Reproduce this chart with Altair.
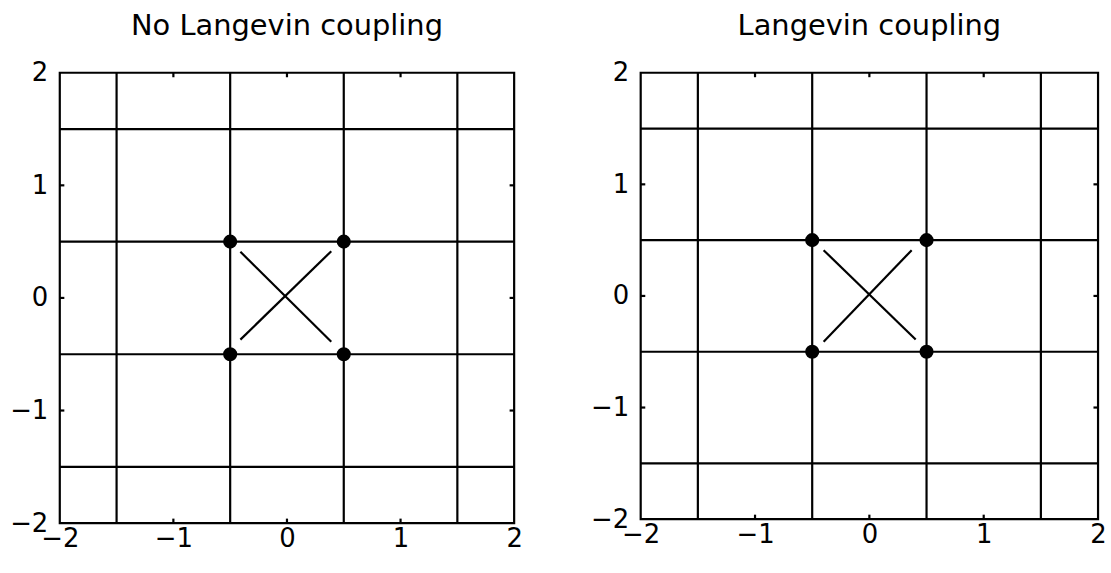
import altair as alt
import pandas as pd

# Lattice lines drawn across each panel
grid_positions = [-1.5, -0.5, 0.5, 1.5]
# Tick labels on both axes and inward tick marks
label_values = [-2, -1, 0, 1, 2]
tick_values = [-1, 0, 1]
tick_len = 0.04

# Particle positions (corners of the central cell)
dot_x = [-0.5, 0.5, -0.5, 0.5]
dot_y = [0.5, 0.5, -0.5, -0.5]

# Diagonal cross inside the central cell: (x, y) -> (x2, y2)
left_cross_x = [-0.41, -0.41]
left_cross_y = [0.41, -0.37]
left_cross_x2 = [0.39, 0.39]
left_cross_y2 = [-0.39, 0.415]

right_cross_x = [-0.40, -0.40]
right_cross_y = [0.41, -0.41]
right_cross_x2 = [0.405, 0.37]
right_cross_y2 = [-0.39, 0.41]

FONT = "DejaVu Sans"
DOMAIN = [-2, 2]
LINE_W = 2.2


def tick_table():
    rows = []
    for t in tick_values:
        rows.append({"x": t, "y": -2, "x2": t, "y2": -2 + tick_len})
        rows.append({"x": t, "y": 2, "x2": t, "y2": 2 - tick_len})
        rows.append({"x": -2, "y": t, "x2": -2 + tick_len, "y2": t})
        rows.append({"x": 2, "y": t, "x2": 2 - tick_len, "y2": t})
    return pd.DataFrame(rows)


def panel(title, cx, cy, cx2, cy2, width, height):
    xs = alt.Scale(domain=DOMAIN, nice=False, zero=False, padding=0)
    ys = alt.Scale(domain=DOMAIN, nice=False, zero=False, padding=0)
    x_axis = alt.Axis(values=label_values, format="d", ticks=False, domain=False,
                      grid=False, title=None, labelFontSize=26, labelFont=FONT,
                      labelColor="black", labelPadding=2, labelFlush=False)
    y_axis = alt.Axis(values=label_values, format="d", ticks=False, domain=False,
                      grid=False, title=None, labelFontSize=26, labelFont=FONT,
                      labelColor="black", labelPadding=12, labelFlush=False)

    grid_df = pd.DataFrame({"g": grid_positions})
    hlines = alt.Chart(grid_df).mark_rule(color="black", strokeWidth=LINE_W).encode(
        y=alt.Y("g:Q", scale=ys, axis=y_axis))
    vlines = alt.Chart(grid_df).mark_rule(color="black", strokeWidth=LINE_W).encode(
        x=alt.X("g:Q", scale=xs, axis=x_axis))

    ticks = alt.Chart(tick_table()).mark_rule(color="black", strokeWidth=LINE_W).encode(
        x=alt.X("x:Q", scale=xs), y=alt.Y("y:Q", scale=ys),
        x2="x2:Q", y2="y2:Q")

    cross_df = pd.DataFrame({"x": cx, "y": cy, "x2": cx2, "y2": cy2})
    cross = alt.Chart(cross_df).mark_rule(color="black", strokeWidth=LINE_W).encode(
        x=alt.X("x:Q", scale=xs), y=alt.Y("y:Q", scale=ys),
        x2="x2:Q", y2="y2:Q")

    dots_df = pd.DataFrame({"x": dot_x, "y": dot_y})
    dots = alt.Chart(dots_df).mark_circle(color="black", size=200, opacity=1).encode(
        x=alt.X("x:Q", scale=xs), y=alt.Y("y:Q", scale=ys))

    return alt.layer(hlines, vlines, ticks, cross, dots).properties(
        width=width, height=height,
        title=alt.TitleParams(title, font=FONT, fontSize=29, fontWeight="normal",
                              color="black", anchor="middle", offset=19))


left = panel("No Langevin coupling", left_cross_x, left_cross_y,
             left_cross_x2, left_cross_y2, 456, 452)
right = panel("Langevin coupling", right_cross_x, right_cross_y,
              right_cross_x2, right_cross_y2, 459, 448)

chart = alt.hconcat(left, right, spacing=65).properties(
    padding={"left": 8, "top": 9, "right": 3, "bottom": 4},
    background="white",
).configure_view(stroke="black", strokeWidth=LINE_W)

chart.save("out.html", embed_options={"renderer": "svg", "actions": False})
